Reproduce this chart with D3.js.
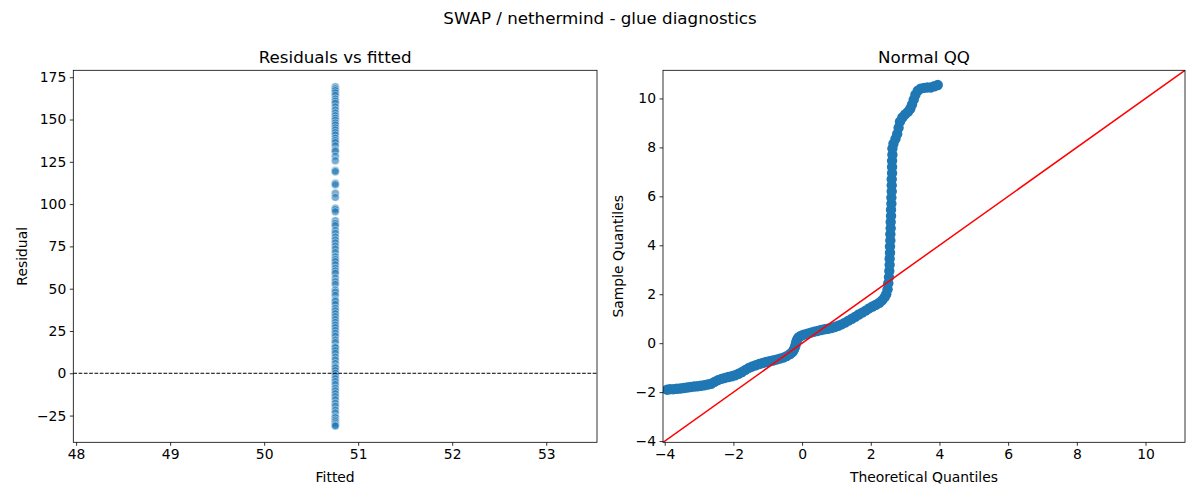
<!DOCTYPE html>
<html>
<head>
<meta charset="utf-8">
<script src="https://cdn.jsdelivr.net/npm/d3@7"></script>
<style>
  body { margin: 0; background: #fff; }
  svg text { font-family: "DejaVu Sans", sans-serif; fill: #000; }
</style>
</head>
<body>
<svg id="chart" width="1200" height="500"></svg>
<script>
// residuals vs fitted: every point sits at the same fitted value
var fittedValue = 50.757;
var residuals = [
    169.4, 168.2, 167.1, 165.8, 164.3, 162.2, 160.9, 159.6, 157.5, 155.7,
    153.9, 152.3, 150.8, 149.5, 148.0, 146.8, 145.1, 143.8, 142.3, 140.9,
    139.0, 137.6, 136.4, 134.5, 132.0, 131.2, 128.3, 125.7, 119.8, 119.2,
    112.3, 111.5, 106.4, 104.0, 97.5, 96.8, 95.5, 90.2, 88.6, 87.3,
    84.5, 82.8, 80.6, 78.8, 77.1, 75.2, 73.5, 71.4, 68.9, 67.3,
    66.0, 64.2, 62.1, 60.5, 59.1, 56.3, 54.2, 52.6, 49.2, 48.0,
    46.1, 43.3, 42.5, 40.7, 38.4, 36.9, 35.2, 33.5, 31.8, 30.1,
    28.5, 27.0, 25.3, 23.6, 21.9, 19.7, 18.2, 15.7, 15.1, 13.4,
    11.8, 9.6, 7.9, 5.8, 3.9, 3.1, 1.6, 0.0, -1.5, -3.2,
    -4.9, -6.6, -8.9, -10.4, -12.1, -13.8, -15.6, -17.7, -19.5, -21.7,
    -23.4, -25.6, -26.3, -27.6, -28.6, -29.7, -30.6, -31.2
];

// normal QQ of the standardized residuals, read along the band
var qqTheoretical = [
    -3.93, -3.85, -3.75, -3.65, -3.55, -3.45, -3.35, -3.25, -3.15, -3.05,
    -2.95, -2.85, -2.75, -2.65, -2.55, -2.45, -2.35, -2.25, -2.15, -2.05,
    -1.95, -1.85, -1.75, -1.65, -1.55, -1.45, -1.35, -1.25, -1.15, -1.05,
    -0.95, -0.85, -0.75, -0.65, -0.55, -0.45, -0.35, -0.28, -0.24, -0.21,
    -0.19, -0.17, -0.15, -0.12, -0.08, -0.02, 0.05, 0.15, 0.25, 0.35,
    0.45, 0.55, 0.65, 0.75, 0.85, 0.95, 1.05, 1.15, 1.25, 1.35,
    1.45, 1.55, 1.65, 1.75, 1.85, 1.95, 2.05, 2.15, 2.25, 2.33,
    2.40, 2.45, 2.49, 2.51, 2.53, 2.54, 2.55, 2.55, 2.56, 2.56,
    2.57, 2.57, 2.58, 2.58, 2.59, 2.59, 2.60, 2.60, 2.61, 2.61,
    2.61, 2.62, 2.62, 2.62, 2.63, 2.63, 2.66, 2.72, 2.77, 2.81,
    2.85, 2.92, 3.00, 3.08, 3.15, 3.20, 3.25, 3.30, 3.37, 3.45,
    3.55, 3.65, 3.75, 3.85, 3.95
];
var qqSample = [
    -1.90, -1.88, -1.88, -1.86, -1.85, -1.83, -1.81, -1.79, -1.77, -1.76,
    -1.74, -1.72, -1.69, -1.66, -1.58, -1.51, -1.46, -1.42, -1.38, -1.35,
    -1.31, -1.25, -1.18, -1.09, -1.01, -0.95, -0.90, -0.85, -0.81, -0.77,
    -0.74, -0.71, -0.67, -0.63, -0.59, -0.53, -0.44, -0.36, -0.27, -0.17,
    -0.07, 0.03, 0.12, 0.20, 0.26, 0.31, 0.35, 0.39, 0.43, 0.47,
    0.50, 0.54, 0.57, 0.59, 0.62, 0.66, 0.71, 0.77, 0.84, 0.92,
    1.00, 1.08, 1.17, 1.25, 1.33, 1.42, 1.50, 1.57, 1.65, 1.75,
    1.87, 2.00, 2.20, 2.45, 2.70, 2.95, 3.20, 3.45, 3.70, 3.95,
    4.20, 4.45, 4.70, 4.95, 5.20, 5.45, 5.70, 5.95, 6.20, 6.45,
    6.70, 6.95, 7.20, 7.45, 7.70, 7.95, 8.15, 8.35, 8.55, 8.80,
    9.05, 9.22, 9.35, 9.45, 9.58, 9.75, 9.95, 10.15, 10.32, 10.40,
    10.43, 10.45, 10.45, 10.50, 10.55
];

var fittedTicks = [48, 49, 50, 51, 52, 53];
var residualTicks = [-25, 0, 25, 50, 75, 100, 125, 150, 175];
var qqTicks = [-4, -2, 0, 2, 4, 6, 8, 10];

var svg = d3.select("#chart");
var blue = "#1f77b4";
var minus = function (d) { return String(d).replace("-", "\u2212"); };

var top_ = 70.3, bottom_ = 442.3;
var left1 = 73.3, right1 = 597;
var left2 = 663, right2 = 1185;

svg.append("text")
    .attr("x", 600).attr("y", 24)
    .attr("text-anchor", "middle")
    .style("font-size", "16.7px")
    .text("SWAP / nethermind - glue diagnostics");

function frame(x, y, xt, yt, title, xlabel, ylabel, ylabelX) {
    var l = x.range()[0], r = x.range()[1];
    var g = svg.append("g");
    g.append("g")
        .attr("transform", "translate(0," + bottom_ + ")")
        .call(d3.axisBottom(x).tickValues(xt).tickSize(3.5).tickPadding(3.5).tickFormat(minus))
        .call(function (a) {
            a.select(".domain").remove();
            a.selectAll("line").attr("stroke-width", 0.8);
            a.selectAll("text").style("font-size", "13.9px").attr("font-family", null);
        });
    g.append("g")
        .attr("transform", "translate(" + l + ",0)")
        .call(d3.axisLeft(y).tickValues(yt).tickSize(3.5).tickPadding(3.5).tickFormat(minus))
        .call(function (a) {
            a.select(".domain").remove();
            a.selectAll("line").attr("stroke-width", 0.8);
            a.selectAll("text").style("font-size", "13.9px").attr("font-family", null);
        });
    g.append("rect")
        .attr("x", l).attr("y", top_)
        .attr("width", r - l).attr("height", bottom_ - top_)
        .attr("fill", "none").attr("stroke", "#000").attr("stroke-width", 0.8);
    g.append("text")
        .attr("x", (l + r) / 2).attr("y", 62.5)
        .attr("text-anchor", "middle").style("font-size", "16.7px")
        .text(title);
    g.append("text")
        .attr("x", (l + r) / 2).attr("y", 482)
        .attr("text-anchor", "middle").style("font-size", "13.9px")
        .text(xlabel);
    g.append("text")
        .attr("transform", "translate(" + ylabelX + "," + (top_ + bottom_) / 2 + ") rotate(-90)")
        .attr("text-anchor", "middle").style("font-size", "13.9px")
        .text(ylabel);
}

// ---- left: residuals vs fitted
var x1 = d3.scaleLinear().domain([47.97, 53.54]).range([left1, right1]);
var y1 = d3.scaleLinear().domain([-40.8, 179.1]).range([bottom_, top_]);

var defs = svg.append("defs");
defs.append("clipPath").attr("id", "clip1")
    .append("rect").attr("x", left1).attr("y", top_)
    .attr("width", right1 - left1).attr("height", bottom_ - top_);
defs.append("clipPath").attr("id", "clip2")
    .append("rect").attr("x", left2).attr("y", top_)
    .attr("width", right2 - left2).attr("height", bottom_ - top_);

svg.append("g").attr("clip-path", "url(#clip1)")
    .selectAll("circle").data(residuals).enter().append("circle")
    .attr("cx", x1(fittedValue))
    .attr("cy", function (d) { return y1(d); })
    .attr("r", 4)
    .attr("fill", blue).attr("fill-opacity", 0.6)
    .attr("stroke", "#fff").attr("stroke-width", 0.75).attr("stroke-opacity", 0.6);

svg.append("line")
    .attr("x1", left1).attr("x2", right1)
    .attr("y1", y1(0)).attr("y2", y1(0))
    .attr("stroke", "#000").attr("stroke-width", 1)
    .attr("stroke-dasharray", "3.7,1.6");

frame(x1, y1, fittedTicks, residualTicks, "Residuals vs fitted", "Fitted", "Residual", 26.5);

// ---- right: normal QQ
var x2 = d3.scaleLinear().domain([-4.05, 11.15]).range([left2, right2]);
var y2 = d3.scaleLinear().domain([-4.05, 11.15]).range([bottom_, top_]);

var qq = qqTheoretical.map(function (t, i) { return [t, qqSample[i]]; });

svg.append("g").attr("clip-path", "url(#clip2)")
    .selectAll("circle").data(qq).enter().append("circle")
    .attr("cx", function (d) { return x2(d[0]); })
    .attr("cy", function (d) { return y2(d[1]); })
    .attr("r", 5.2)
    .attr("fill", blue);

// 45 degree reference line
var dom = x2.domain();
svg.append("line").attr("clip-path", "url(#clip2)")
    .attr("x1", x2(dom[0])).attr("y1", y2(dom[0]))
    .attr("x2", x2(dom[1])).attr("y2", y2(dom[1]))
    .attr("stroke", "#ff0000").attr("stroke-width", 1.5);

frame(x2, y2, qqTicks, qqTicks, "Normal QQ", "Theoretical Quantiles", "Sample Quantiles", 623);
</script>
</body>
</html>
